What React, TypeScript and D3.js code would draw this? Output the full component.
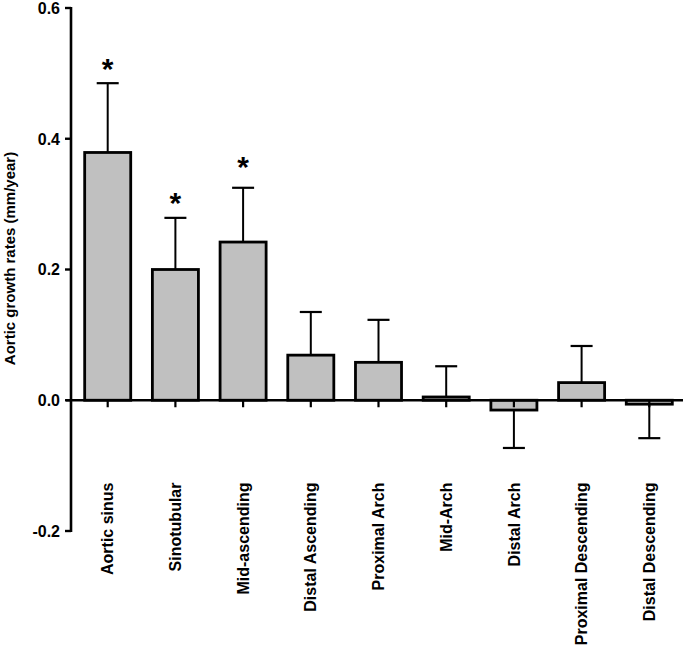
import React from "react";
import * as d3 from "d3";

const categories = [
  "Aortic sinus",
  "Sinotubular",
  "Mid-ascending",
  "Distal Ascending",
  "Proximal Arch",
  "Mid-Arch",
  "Distal Arch",
  "Proximal Descending",
  "Distal Descending",
];
const values = [0.379, 0.2, 0.242, 0.069, 0.058, 0.005, -0.015, 0.027, -0.006];
const errors = [0.106, 0.079, 0.083, 0.066, 0.065, 0.047, 0.058, 0.056, 0.052];
const starCategories = ["Aortic sinus", "Sinotubular", "Mid-ascending"];
const starValues = [0.516, 0.311, 0.367];
const yTicks = [-0.2, 0.0, 0.2, 0.4, 0.6];
const yTickLabels = ["-0.2", "0.0", "0.2", "0.4", "0.6"];
const yTitle = "Aortic growth rates (mm/year)";

const W = 685;
const H = 646;
const FONT = "'Liberation Sans', Arial, Helvetica, sans-serif";

export default function App() {
  const y = d3.scaleLinear().domain([-0.2, 0.6]).range([531, 8]);
  const x = d3
    .scaleBand<string>()
    .domain(categories)
    .range([73.85, 73.85 + 9 * 67.7])
    .paddingInner(0.32)
    .paddingOuter(0.16);
  const axisX = 71;
  const y0 = y(0);
  const bw = x.bandwidth();
  const capW = 22;

  return (
    <svg
      width={W}
      height={H}
      style={{ position: "absolute", left: 0, top: 0, background: "#fff" }}
      fontFamily={FONT}
    >
      <rect x={0} y={0} width={W} height={H} fill="#fff" />
      {categories.map((c, i) => {
        const v = values[i];
        const top = Math.min(y(v), y0);
        const h = Math.abs(y(v) - y0);
        const cx = (x(c) as number) + bw / 2;
        const end = y(v + (v >= 0 ? errors[i] : -errors[i]));
        return (
          <g key={c}>
            <line x1={cx} x2={cx} y1={y(v)} y2={end} stroke="#000" strokeWidth={2} />
            <line x1={cx - capW / 2} x2={cx + capW / 2} y1={end} y2={end} stroke="#000" strokeWidth={2.2} />
            <rect
              x={x(c) as number}
              y={top}
              width={bw}
              height={Math.max(h, 0.5)}
              fill="#c0c0c0"
              stroke="#000"
              strokeWidth={2.8}
            />
          </g>
        );
      })}
      <line x1={66} x2={683} y1={y0} y2={y0} stroke="#000" strokeWidth={2.6} />
      {categories.map((c) => {
        const cx = (x(c) as number) + bw / 2;
        return <line key={c} x1={cx} x2={cx} y1={y0} y2={y0 + 7} stroke="#000" strokeWidth={2.2} />;
      })}
      <line x1={axisX} x2={axisX} y1={y(0.6) - 1} y2={y(-0.2) + 1} stroke="#000" strokeWidth={2.6} />
      {yTicks.map((t, i) => (
        <g key={t}>
          <line x1={axisX - 6} x2={axisX} y1={y(t)} y2={y(t)} stroke="#000" strokeWidth={2.4} />
          <text x={60} y={y(t)} dy="0.36em" textAnchor="end" fontSize={16} fontWeight="bold">
            {yTickLabels[i]}
          </text>
        </g>
      ))}
      <text
        transform={`translate(15,258.5) rotate(-90)`}
        textAnchor="middle"
        fontSize={15}
        fontWeight="bold"
      >
        {yTitle}
      </text>
      {categories.map((c) => {
        const cx = (x(c) as number) + bw / 2;
        return (
          <text
            key={c}
            transform={`translate(${cx},482.5) rotate(-90)`}
            dy="0.35em"
            textAnchor="end"
            fontSize={16}
            fontWeight="bold"
          >
            {c}
          </text>
        );
      })}
      {starCategories.map((c, i) => {
        const cx = (x(c) as number) + bw / 2;
        return (
          <text
            key={c}
            x={cx}
            y={y(starValues[i]) + 16.5}
            textAnchor="middle"
            fontSize={30}
            fontWeight="bold"
          >
            *
          </text>
        );
      })}
    </svg>
  );
}
